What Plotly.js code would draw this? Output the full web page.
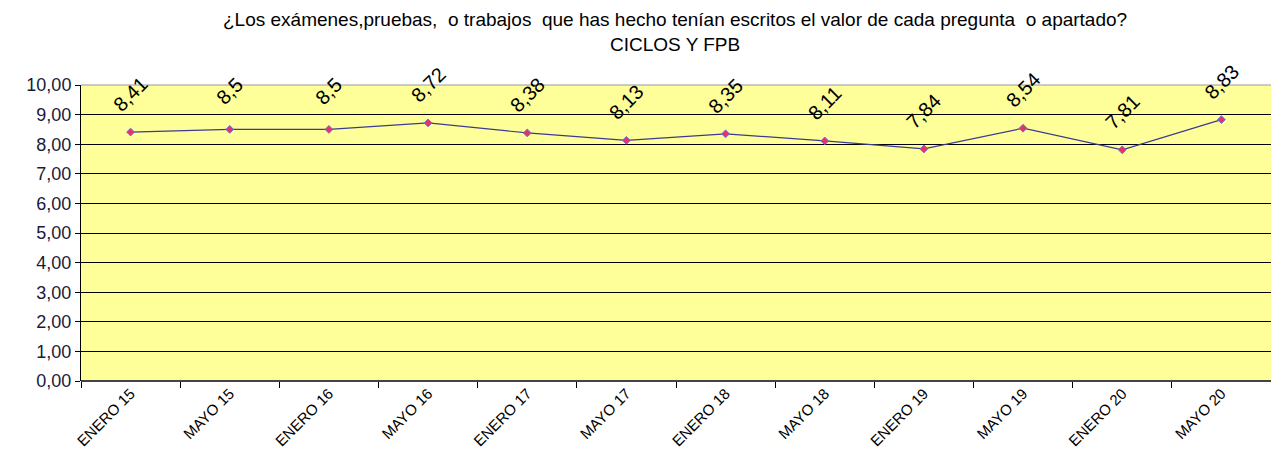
<!DOCTYPE html>
<html><head><meta charset="utf-8">
<script src="https://cdn.plot.ly/plotly-3.0.1.min.js"></script>
<style>body{margin:0;background:#fff}#c{width:1271px;height:459px}</style>
</head><body><div id="c"></div>
<script>
const categories = ["ENERO 15","MAYO 15","ENERO 16","MAYO 16","ENERO 17","MAYO 17","ENERO 18","MAYO 18","ENERO 19","MAYO 19","ENERO 20","MAYO 20"];
const values = [8.41, 8.5, 8.5, 8.72, 8.38, 8.13, 8.35, 8.11, 7.84, 8.54, 7.81, 8.83];
const valueLabels = ["8,41","8,5","8,5","8,72","8,38","8,13","8,35","8,11","7,84","8,54","7,81","8,83"];
const yTicks = [0,1,2,3,4,5,6,7,8,9,10];
const titleText = '¿Los exámenes,pruebas,  o trabajos  que has hecho tenían escritos el valor de cada pregunta  o apartado?<br>CICLOS Y FPB';

const trace = {
  x: categories, y: values, type: 'scatter', mode: 'lines+markers',
  line: {color: '#3b3b8f', width: 1.2},
  marker: {symbol: 'diamond', size: 6, color: '#e8306a', line: {color: '#7070d0', width: 1}},
  hoverinfo: 'skip'
};
const annotations = categories.map((c, i) => ({
  x: c, y: values[i], xref: 'x', yref: 'y', text: valueLabels[i],
  showarrow: false, textangle: -45, yshift: 38, xshift: 0,
  font: {family: 'Liberation Sans, Arial, sans-serif', size: 20, color: '#000'}
}));
annotations.push({
  xref: 'paper', yref: 'paper', x: 0.499, y: 1.095, xanchor: 'center', yanchor: 'bottom',
  text: titleText, showarrow: false,
  font: {family: 'Liberation Sans, Arial, sans-serif', size: 19, color: '#000'}
});
const layout = {
  width: 1271, height: 459,
  margin: {l: 81, r: 0, t: 85, b: 78},
  paper_bgcolor: '#ffffff', plot_bgcolor: '#ffff99',
  separators: ',.',
  showlegend: false,
  xaxis: {
    type: 'category', tickangle: -45, showgrid: false, zeroline: false,
    showline: false, ticks: 'outside', ticklen: 6, tickcolor: '#000',
    tickson: 'boundaries',
    tickfont: {family: 'Liberation Sans, Arial, sans-serif', size: 15, color: '#000'},
    range: [-0.5, 11.5]
  },
  yaxis: {
    range: [0, 10], tickvals: yTicks, tickformat: '.2f',
    showgrid: true, gridcolor: '#000', gridwidth: 1, zeroline: false,
    showline: true, linecolor: '#000', linewidth: 1,
    ticks: 'outside', ticklen: 5, tickcolor: '#000',
    tickfont: {family: 'Liberation Sans, Arial, sans-serif', size: 18, color: '#1a1a3a'}
  },
  annotations: annotations,
  shapes: [
    {type: 'line', xref: 'paper', yref: 'paper', x0: 0, x1: 1, y0: 1, y1: 1, line: {color: '#999', width: 1}},
    {type: 'line', xref: 'paper', yref: 'paper', x0: 0, x1: 1, y0: 0, y1: 0, line: {color: '#444', width: 2}}
  ]
};
Plotly.newPlot('c', [trace], layout, {staticPlot: true});
</script></body></html>
